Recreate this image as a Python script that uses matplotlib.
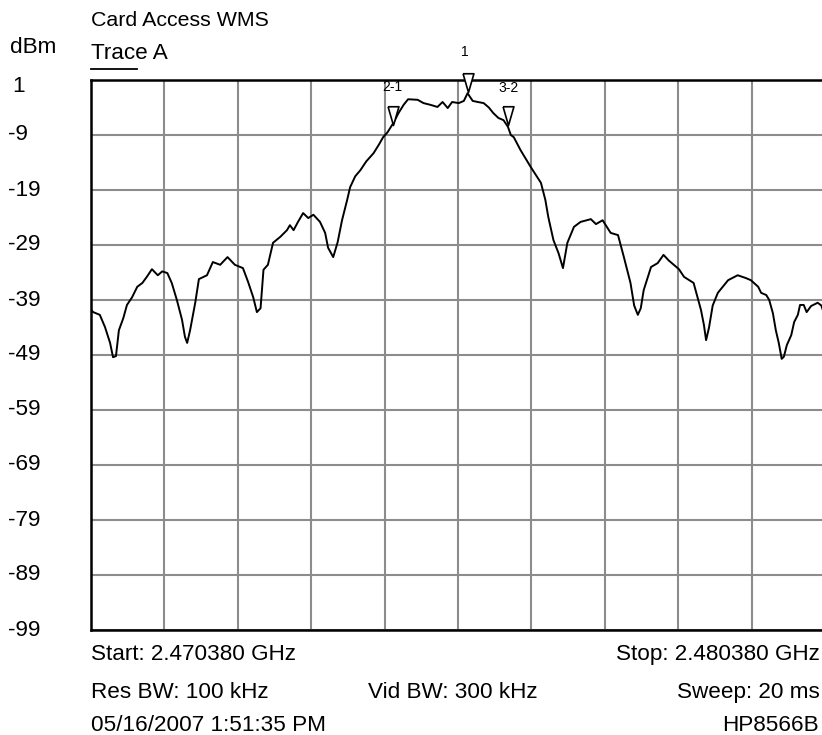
import numpy as np
import matplotlib
matplotlib.use('Agg')
import matplotlib.pyplot as plt

# Sweep settings (GHz) and reference level
start_ghz = 2.470380
stop_ghz = 2.480380
y_top = 1
y_bottom = -99

offset_mhz = [0.00, 0.03, 0.12, 0.19, 0.26, 0.30, 0.34, 0.38, 0.44, 0.49,
              0.56, 0.63, 0.70, 0.76, 0.83, 0.91, 0.97, 1.04, 1.10, 1.17,
              1.24, 1.28, 1.31, 1.35, 1.42, 1.47, 1.58, 1.66, 1.76, 1.86,
              1.96, 2.07, 2.14, 2.21, 2.26, 2.31, 2.35, 2.41, 2.48, 2.58,
              2.67, 2.71, 2.76, 2.82, 2.89, 2.96, 3.03, 3.12, 3.19, 3.23,
              3.30, 3.36, 3.42, 3.49, 3.53, 3.60, 3.67, 3.75, 3.85, 3.92,
              3.98, 4.04, 4.12, 4.19, 4.26, 4.32, 4.45, 4.53, 4.62, 4.72,
              4.79, 4.86, 4.92, 5.01, 5.08, 5.13, 5.20, 5.27, 5.35, 5.42,
              5.48, 5.55, 5.62, 5.68, 5.72, 5.76, 5.85, 5.99, 6.13, 6.19,
              6.23, 6.30, 6.37, 6.43, 6.49, 6.58, 6.67, 6.81, 6.88, 6.97,
              7.08, 7.18, 7.26, 7.35, 7.40, 7.45, 7.49, 7.53, 7.63, 7.72,
              7.80, 7.87, 7.94, 8.01, 8.08, 8.21, 8.31, 8.35, 8.38, 8.42,
              8.47, 8.54, 8.68, 8.81, 8.92, 8.99, 9.09, 9.13, 9.20, 9.24,
              9.29, 9.33, 9.37, 9.41, 9.44, 9.48, 9.54, 9.58, 9.63, 9.66,
              9.71, 9.75, 9.81, 9.90, 9.95, 10.00]
level_dbm = [-40.8, -41.2, -41.7, -43.9, -46.8, -49.4, -49.2, -44.5, -42.3, -39.9,
             -38.5, -36.6, -35.9, -34.8, -33.4, -34.5, -33.8, -34.1, -35.9, -39.0,
             -42.6, -45.7, -46.8, -44.5, -39.5, -35.2, -34.5, -32.1, -32.6, -31.2,
             -32.6, -33.2, -35.7, -38.5, -41.2, -40.5, -33.5, -32.6, -28.6, -27.5,
             -26.3, -25.4, -26.3, -24.8, -23.2, -24.1, -23.5, -24.8, -26.8, -29.5,
             -31.2, -28.5, -24.5, -20.8, -18.5, -16.5, -15.4, -13.8, -12.3, -10.8,
             -9.4, -8.5, -6.8, -5.0, -3.5, -2.5, -2.6, -3.2, -3.5, -3.9,
             -3.0, -4.1, -3.0, -3.2, -2.8, -1.4, -2.8, -3.0, -3.2, -4.0,
             -5.0, -5.9, -6.3, -7.5, -9.0, -9.4, -11.7, -14.8, -17.7, -20.8,
             -23.9, -28.1, -30.5, -33.2, -28.6, -25.7, -24.8, -24.3, -25.2, -24.5,
             -26.8, -27.2, -31.2, -35.9, -40.0, -41.7, -40.5, -37.2, -33.0, -32.3,
             -30.8, -31.8, -32.6, -33.4, -34.8, -35.9, -40.8, -43.5, -46.3, -44.0,
             -40.0, -37.7, -35.4, -34.5, -35.0, -35.4, -36.6, -37.7, -38.1, -39.0,
             -41.4, -44.5, -46.8, -49.7, -49.3, -47.2, -45.4, -43.0, -41.7, -39.9,
             -39.9, -41.2, -40.1, -39.5, -40.0, -42.0]

# Markers
marker_names = ['2-1', '1', '3-2']
marker_mhz = [4.11, 5.13, 5.68]
marker_dbm = [-7.2, -1.2, -7.2]
marker_text_dx = [0, -3, 1]          # pixel nudges for the labels
marker_text_dy = [38, 40, 37]

y_labels = ['1', '-9', '-19', '-29', '-39', '-49', '-59', '-69', '-79', '-89', '-99']

W, H = 822, 735
fig = plt.figure(figsize=(W / 100, H / 100), dpi=100)
plt.rcParams['font.family'] = ['Liberation Sans', 'DejaVu Sans']

# plot frame in pixels: x 91..825, y 80..630
ax = fig.add_axes([91 / W, 1 - 630 / H, (825 - 91) / W, (630 - 80) / H])

freq = start_ghz + np.array(offset_mhz) / 1000.0
ax.plot(freq, level_dbm, color='black', lw=1.4, zorder=3)

tri = [(-0.29, 1), (0.29, 1), (0, 0), (-0.29, 1)]
mfreq = start_ghz + np.array(marker_mhz) / 1000.0
ax.plot(mfreq, marker_dbm, ls='none', marker=tri, ms=27, mfc='white',
        mec='black', mew=1.2, zorder=4, clip_on=False)
for name, fx, lv, dx, dy in zip(marker_names, mfreq, marker_dbm, marker_text_dx, marker_text_dy):
    ax.annotate(name, (fx, lv), xytext=(dx * 0.72, dy * 0.72), textcoords='offset points',
                ha='center', va='center', fontsize=10,
                family=['Liberation Sans Narrow', 'Liberation Sans'], zorder=5)

ax.set_xlim(start_ghz, stop_ghz)
ax.set_ylim(y_bottom, y_top)
ax.set_xticks(np.linspace(start_ghz, stop_ghz, 11))
ax.set_yticks(np.linspace(y_top, y_bottom, 11))
ax.tick_params(length=0, labelbottom=False, labelleft=False)
ax.grid(True, color='#8c8c8c', lw=1.5)
ax.set_axisbelow(True)
for s in ax.spines.values():
    s.set_linewidth(1.8)
    s.set_color('black')

# y labels placed left of the frame
fs = 16.2
for i, lab in enumerate(y_labels):
    ypix = 80 + i * 55
    if i == 0:
        ypix = 87
        xpix = 12
    else:
        xpix = 8
    fig.text(xpix / W, 1 - ypix / H, lab, ha='left', va='center', fontsize=fs)

def ftext(x, y, s, ha='left', size=fs):
    fig.text(x / W, 1 - y / H, s, ha=ha, va='baseline', fontsize=size)

ftext(91, 26, 'Card Access WMS', size=15.4)
ftext(10, 53, 'dBm')
ftext(91, 59, 'Trace A')
fig.add_artist(plt.Line2D([91 / W, 137 / W], [1 - 69 / H, 1 - 69 / H], color='black', lw=1.3))

ftext(91, 660, 'Start: 2.470380 GHz')
ftext(91, 698, 'Res BW: 100 kHz')
ftext(91, 731, '05/16/2007 1:51:35 PM')
ftext(368, 698, 'Vid BW: 300 kHz')
ftext(820, 660, 'Stop: 2.480380 GHz', ha='right')
ftext(820, 698, 'Sweep: 20 ms', ha='right')
ftext(819, 731, 'HP8566B', ha='right')

fig.savefig('out.png', dpi=100)
